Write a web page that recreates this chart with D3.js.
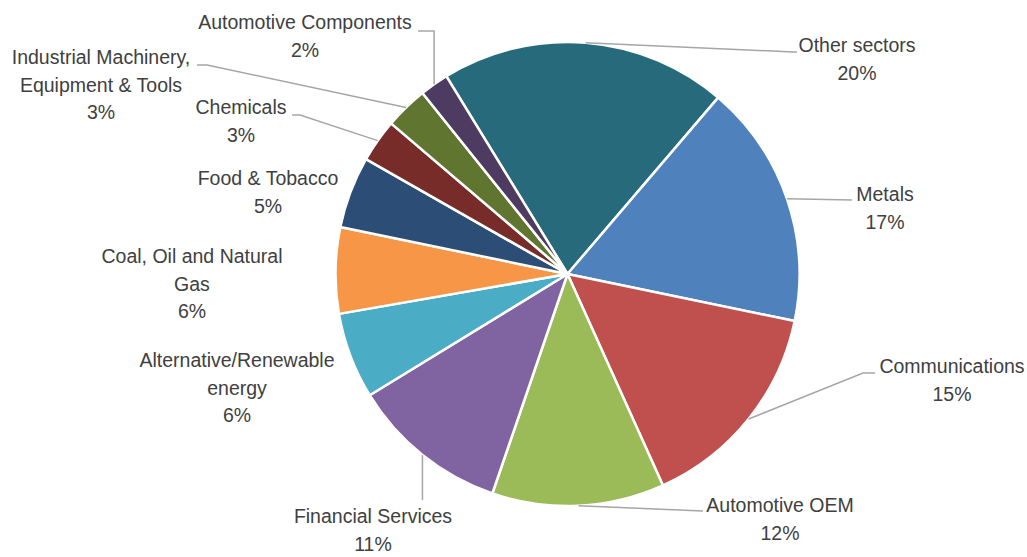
<!DOCTYPE html>
<html>
<head>
<meta charset="utf-8">
<script src="https://cdn.jsdelivr.net/npm/d3@7"></script>
<style>
  html, body { margin: 0; padding: 0; background: #fff; }
  svg { display: block; }
  text { font-family: "Liberation Sans", Arial, sans-serif; font-size: 19.5px; fill: #404040; }
</style>
</head>
<body>
<svg id="chart" width="1027" height="557"></svg>
<script>
// Sector shares (percent), in slice order, clockwise
const sectors = ["Other sectors", "Metals", "Communications", "Automotive OEM", "Financial Services",
  "Alternative/Renewable energy", "Coal, Oil and Natural Gas", "Food & Tobacco", "Chemicals",
  "Industrial Machinery, Equipment & Tools", "Automotive Components"];
const shares = [20, 17, 15, 12, 11, 6, 6, 5, 3, 3, 2];
const sliceColors = ["#276A7C", "#4F81BD", "#C0504D", "#9BBB59", "#8064A2", "#4BACC6",
  "#F79646", "#2C4D75", "#772C2A", "#5F7530", "#4D3B62"];

// Label text lines, placement (centre x, first baseline) and leader-line bends
const labelLines = [
  ["Other sectors"], ["Metals"], ["Communications"], ["Automotive OEM"], ["Financial Services"],
  ["Alternative/Renewable", "energy"], ["Coal, Oil and Natural", "Gas"], ["Food & Tobacco"],
  ["Chemicals"], ["Industrial Machinery,", "Equipment & Tools"], ["Automotive Components"]
];
const labelAt = [
  [857, 52], [885, 201], [952, 373], [780, 512], [373, 523],
  [237, 367], [192, 263], [268, 185], [241, 114], [101, 64], [305, 29]
];
// leader: list of points after the arc anchor; "x" means keep anchor x
const leaders = [
  [[793, 52], [797, 52]],
  [[852, 200]],
  [[863, 373], [875, 373]],
  [[703, 511]],
  [["x", 500]],
  null, null, null,
  [[300, 115], [292, 115]],
  [[207, 65], [197, 65]],
  [["x", 31], [418, 31]]
];

const cx = 567.5, cy = 274, r = 232;
const startAngle = -31.5 * Math.PI / 180;
const lineGap = 27.5;

const svg = d3.select("#chart");
const g = svg.append("g").attr("transform", `translate(${cx},${cy})`);

const pie = d3.pie().sort(null).value(d => d)
  .startAngle(startAngle).endAngle(startAngle + 2 * Math.PI);
const arcs = pie(shares);
const arc = d3.arc().innerRadius(0).outerRadius(r);

g.selectAll("path.slice").data(arcs).join("path")
  .attr("class", "slice")
  .attr("d", arc)
  .attr("fill", (d, i) => sliceColors[i])
  .attr("stroke", "#fff")
  .attr("stroke-width", 2.5)
  .attr("stroke-linejoin", "round");

// leader lines
const lineGen = d3.line();
arcs.forEach((d, i) => {
  if (!leaders[i]) return;
  const mid = (d.startAngle + d.endAngle) / 2;
  const ax = cx + r * Math.sin(mid), ay = cy - r * Math.cos(mid);
  const pts = [[ax, ay]].concat(leaders[i].map(p => [p[0] === "x" ? ax : p[0], p[1]]));
  svg.append("path")
    .attr("d", lineGen(pts))
    .attr("fill", "none")
    .attr("stroke", "#A6A6A6")
    .attr("stroke-width", 1.5);
});

// labels: name lines plus percentage
arcs.forEach((d, i) => {
  const lines = labelLines[i].concat([d3.format(".0f")(shares[i]) + "%"]);
  const [lx, ly] = labelAt[i];
  const t = svg.append("text").attr("text-anchor", "middle");
  lines.forEach((s, k) => {
    t.append("tspan").attr("x", lx).attr("y", ly + k * lineGap).text(s);
  });
});
</script>
</body>
</html>
